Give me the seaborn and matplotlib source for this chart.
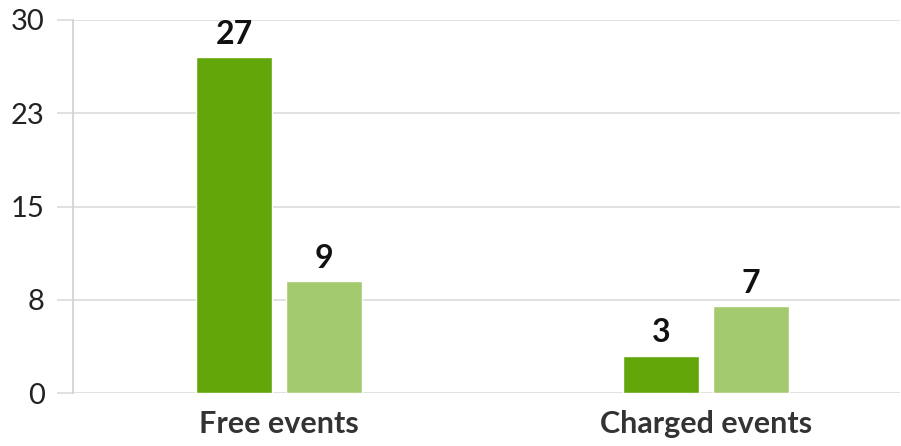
import matplotlib
matplotlib.use("Agg")
import matplotlib.pyplot as plt
import seaborn as sns
import pandas as pd

categories = ["Free events", "Charged events"]
series_names = ["Series A", "Series B"]
series_a = [27, 3]
series_b = [9, 7]
ytick_values = [0, 7.5, 15, 22.5, 30]
ytick_labels = ["0", "8", "15", "23", "30"]
colors = ["#62A60A", "#A3CA6E"]

df = pd.DataFrame({
    "category": categories * 2,
    "series": [series_names[0]] * 2 + [series_names[1]] * 2,
    "value": series_a + series_b,
})

sns.set_theme(style="white")
plt.rcParams["font.family"] = ["Lato", "DejaVu Sans"]

fig = plt.figure(figsize=(9.01, 4.46), dpi=100)
ax = fig.add_axes([72.7 / 901, 53 / 446, (900 - 72.7) / 901, 373 / 446])

sns.barplot(data=df, x="category", y="value", hue="series", order=categories,
            hue_order=series_names, palette=colors, width=0.42, gap=0.152,
            ax=ax, legend=False, saturation=1)

ax.set_xlim(-0.483, 1.454)
ax.set_ylim(0, 30)
ax.set_yticks(ytick_values)
ax.set_yticklabels(ytick_labels, fontsize=21, color="#222222", fontweight="normal")
ax.yaxis.grid(True, color="#dcdcdc", linewidth=1.2)
ax.set_axisbelow(True)
ax.tick_params(axis="y", length=11.3, width=1.2, color="#dcdcdc", pad=9, left=True)
ax.tick_params(axis="x", length=0, pad=12)
for lbl in ax.get_xticklabels():
    lbl.set_fontsize(22)
    lbl.set_fontweight("bold")
    lbl.set_color("#333333")
ax.set_xlabel("")
ax.set_ylabel("")
for s in ["top", "right", "bottom"]:
    ax.spines[s].set_visible(False)
ax.spines["left"].set_color("#cfcfcf")
ax.spines["left"].set_linewidth(1.2)

for cont in ax.containers:
    ax.bar_label(cont, labels=[f"{int(v)}" for v in cont.datavalues],
                 padding=6, fontsize=23, fontweight="bold", color="#111111")

fig.savefig("out.png", dpi=100)
